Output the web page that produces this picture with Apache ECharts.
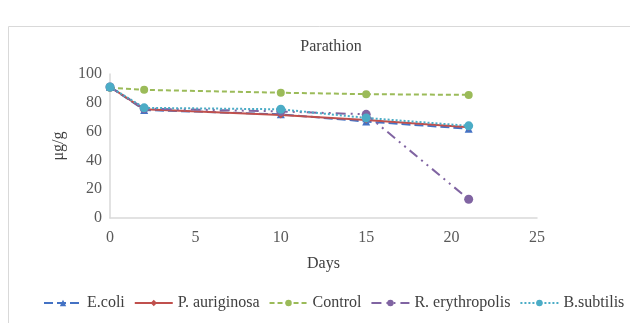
<!DOCTYPE html>
<html>
<head>
<meta charset="utf-8">
<script src="https://cdn.jsdelivr.net/npm/echarts@6/dist/echarts.min.js"></script>
<style>
  html, body { margin: 0; padding: 0; background: #fff; }
  #chart { width: 630px; height: 323px; }
</style>
</head>
<body>
<div id="chart"></div>
<script>
// sampling days
const days = [0, 2, 10, 15, 21];

// residues (µg/g) per treatment
const ecoli = [91, 75, 72, 67, 62];
const pAuriginosa = [91, 75.5, 71.5, 68, 63];
const control = [90.5, 89, 87, 86, 85.5];
const rErythropolis = [91, 76, 74, 72, 13];
const bSubtilis = [91, 76.5, 75.5, 69.5, 64];

const chart = echarts.init(document.getElementById('chart'));
const font = '"Liberation Serif", "Times New Roman", serif';

function pairs(vals) {
  return days.map((d, i) => [d, vals[i]]);
}

function makeSeries(name, vals, color, lineType, symbol, size) {
  return {
    name: name,
    type: 'line',
    data: pairs(vals),
    symbol: symbol,
    symbolSize: size,
    itemStyle: { color: color },
    lineStyle: { color: color, width: 2, type: lineType },
    z: 3
  };
}

const option = {
  backgroundColor: '#fff',
  animation: false,
  graphic: [{
    type: 'rect',
    shape: { x: 8.5, y: 26.5, width: 640, height: 320 },
    style: { fill: 'none', stroke: '#d9d9d9', lineWidth: 1 },
    silent: true
  }],
  title: {
    text: 'Parathion',
    left: 326,
    textAlign: 'center',
    top: 34,
    textStyle: { fontFamily: font, fontSize: 16, fontWeight: 'normal', color: '#404040' }
  },
  legend: {
    top: 290,
    left: 38,
    width: 592,
    itemWidth: 38,
    itemHeight: 8,
    itemGap: 9,
    textStyle: { fontFamily: font, fontSize: 16, color: '#404040' },
    data: ['E.coli', 'P. auriginosa', 'Control', 'R. erythropolis', 'B.subtilis']
  },
  grid: { left: 110, right: 93, top: 74, bottom: 105 },
  xAxis: {
    type: 'value',
    min: 0,
    max: 25,
    interval: 5,
    name: 'Days',
    nameLocation: 'middle',
    nameGap: 38,
    nameTextStyle: { fontFamily: font, fontSize: 16, color: '#404040' },
    axisLine: { lineStyle: { color: '#d9d9d9', width: 1.5 } },
    axisTick: { show: false },
    splitLine: { show: false },
    axisLabel: { fontFamily: font, fontSize: 16, color: '#595959', margin: 12 }
  },
  yAxis: {
    type: 'value',
    min: 0,
    max: 100,
    interval: 20,
    name: 'μg/g',
    nameLocation: 'middle',
    nameGap: 42,
    nameTextStyle: { fontFamily: font, fontSize: 16, color: '#404040' },
    axisLine: { show: true, lineStyle: { color: '#d9d9d9', width: 1.5 } },
    axisTick: { show: false },
    splitLine: { show: false },
    axisLabel: { fontFamily: font, fontSize: 16, color: '#595959', margin: 8 }
  },
  series: [
    makeSeries('E.coli', ecoli, '#4472c4', [9, 4], 'triangle', 8),
    makeSeries('P. auriginosa', pAuriginosa, '#c0504d', 'solid', 'diamond', 7),
    makeSeries('Control', control, '#9bbb59', [5, 3], 'circle', 8),
    makeSeries('R. erythropolis', rErythropolis, '#8064a2', [10, 5, 2, 5, 2, 5], 'circle', 9),
    makeSeries('B.subtilis', bSubtilis, '#4bacc6', [2, 2], 'circle', 9)
  ]
};

chart.setOption(option);
</script>
</body>
</html>
